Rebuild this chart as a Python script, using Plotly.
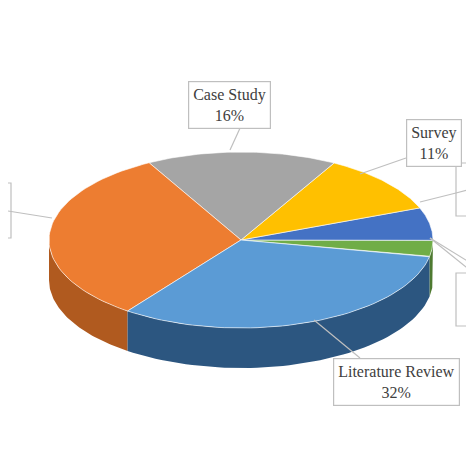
import numpy as np
import plotly.graph_objects as go

# slices, counter-clockwise from the right-hand side
labels = ["Other A", "Other B", "Survey", "Case Study", "Other C", "Literature Review"]
values = [3, 6, 11, 16, 32, 32]
top_colors = ["#70AD47", "#4472C4", "#FFC000", "#A5A5A5", "#ED7D31", "#5B9BD5"]
side_colors = ["#4E7A31", "#2F4F8A", "#B38600", "#737373", "#B05A1F", "#2C5680"]

cx, cy, rx, ry, depth = 233, 232, 192, 88, 40
start_deg = -11

fig = go.Figure()


def arc(a0, a1, n=60):
    t = np.radians(np.linspace(a0, a1, n))
    return cx + rx * np.cos(t), cy - ry * np.sin(t)


bounds = np.cumsum([0] + values) / sum(values) * 360 + start_deg

# side walls (front half only: angles 180..360)
for i in range(len(values)):
    a0, a1 = bounds[i], bounds[i + 1]
    for shift in (0, 360):
        lo, hi = max(a0 + shift, 180), min(a1 + shift, 360)
        if hi <= lo:
            continue
        x, y = arc(lo, hi)
        xs = np.concatenate([x, x[::-1]])
        ys = np.concatenate([y, y[::-1] + depth])
        fig.add_trace(go.Scatter(x=xs, y=ys, fill="toself", mode="lines",
                                 line=dict(width=0), fillcolor=side_colors[i],
                                 hoverinfo="skip", showlegend=False))

# top faces
for i in range(len(values)):
    x, y = arc(bounds[i], bounds[i + 1])
    xs = np.concatenate([[cx], x, [cx]])
    ys = np.concatenate([[cy], y, [cy]])
    fig.add_trace(go.Scatter(x=xs, y=ys, fill="toself", mode="lines",
                             line=dict(width=0.6, color="white"),
                             fillcolor=top_colors[i], name=labels[i],
                             hoverinfo="name", showlegend=False))

grey = "#BFBFBF"
leaders = [
    ((233, 118), (222, 142)),
    ((398, 150), (352, 166)),
    ((448, 185), (412, 194)),
    ((474, 178), (448, 185)),
    ((422, 230), (474, 262)),
    ((422, 230), (474, 272)),
    ((0, 203), (44, 210)),
    ((352, 350), (306, 312)),
]
for (x0, y0), (x1, y1) in leaders:
    fig.add_shape(type="line", x0=x0, y0=y0, x1=x1, y1=y1,
                  line=dict(color=grey, width=1.2))
# partly visible label boxes at the edges
for x0, y0, x1, y1 in [(448, 155, 480, 208), (448, 265, 480, 318), (-10, 175, 3, 230)]:
    fig.add_shape(type="rect", x0=x0, y0=y0, x1=x1, y1=y1,
                  line=dict(color=grey, width=1.2))

boxes = [(221, 97, "Case Study<br>16%"), (426, 135, "Survey<br>11%"),
         (388, 374, "Literature Review<br>32%")]
for x, y, t in boxes:
    fig.add_annotation(x=x, y=y, text=t, showarrow=False,
                       font=dict(family="Liberation Serif, DejaVu Serif, serif",
                                 size=16, color="#404040"),
                       bordercolor=grey, borderwidth=1.2, borderpad=4, bgcolor="white")

fig.update_xaxes(range=[0, 474], visible=False)
fig.update_yaxes(range=[474, 0], visible=False)
fig.update_layout(width=474, height=474, margin=dict(l=0, r=0, t=0, b=0),
                  plot_bgcolor="white", paper_bgcolor="white")
fig.write_html("out.html")
